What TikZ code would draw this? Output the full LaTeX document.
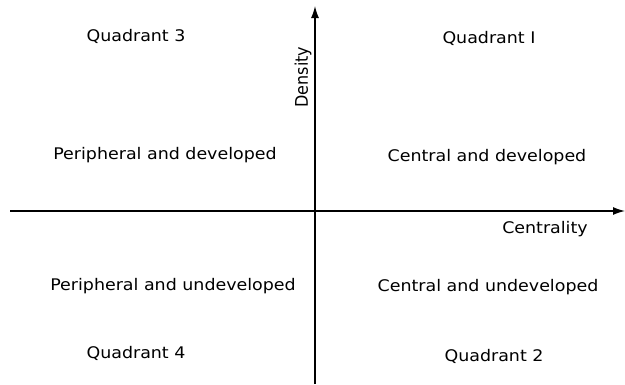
\documentclass[tikz,border=0pt]{standalone}
\usepackage{fontspec}
\setmainfont{DejaVu Sans}
\usetikzlibrary{arrows.meta}
\begin{document}
\begin{tikzpicture}[x=1pt,y=-1pt,
  lab/.style={font=\fontsize{16}{18}\selectfont, inner sep=0pt, xscale=1.09, transform shape},
  axis/.style={line width=1.3pt, -{Latex[length=12pt,width=8pt]}}]
\useasboundingbox (0,0) rectangle (625,384);
\coordinate (vb) at (315,384);
\coordinate (vt) at (315,6);
\coordinate (hl) at (10,211);
\coordinate (hr) at (625,211);
\draw[axis] (vb) -- (vt);
\draw[axis] (hl) -- (hr);
\node[lab] (q3) at (136,36) {Quadrant 3};
\node[lab] (q1) at (489,38) {Quadrant I};
\node[lab] (pd) at (165,155) {Peripheral and developed};
\node[lab] (cd) at (487,157) {Central and developed};
\node[lab] (pu) at (173,286) {Peripheral and undeveloped};
\node[lab] (cu) at (488,287) {Central and undeveloped};
\node[lab] (q4) at (136,353) {Quadrant 4};
\node[lab] (q2) at (494,356) {Quadrant 2};
\node[lab, rotate=90] (den) at (303,77) {Density};
\node[lab] (cen) at (545,229) {Centrality};
\end{tikzpicture}
\end{document}
